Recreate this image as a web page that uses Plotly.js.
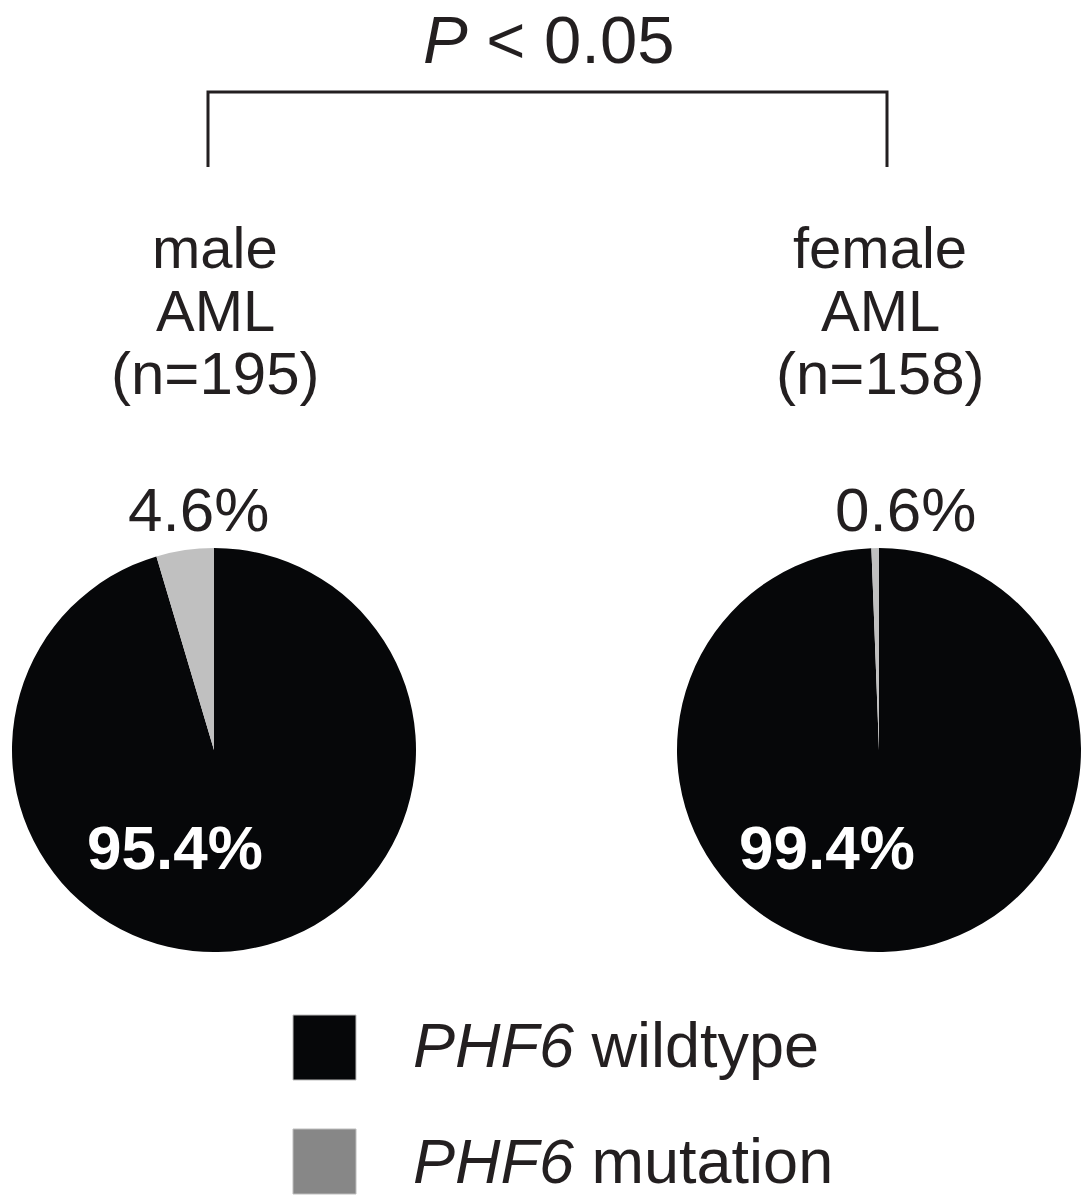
<!DOCTYPE html>
<html>
<head>
<meta charset="utf-8">
<script src="https://cdn.plot.ly/plotly-3.0.1.min.js"></script>
<style>html,body{margin:0;padding:0;background:#fff;overflow:hidden}#chart{width:1081px;height:1195px}</style>
</head>
<body>
<div id="chart"></div>
<script>
// ---- data ----
const groupNames = ['male', 'female'];
const cohortLabel = 'AML';
const nPatients = [195, 158];
const categories = ['PHF6 wildtype', 'PHF6 mutation'];
const wildtypePct = [95.4, 99.4];
const mutationPct = [4.6, 0.6];
const pValueText = '<i>P</i> &lt; 0.05';
const legendGene = 'PHF6';
const legendStates = ['wildtype', 'mutation'];

// ---- helpers ----
const W = 1081, H = 1195;
const fx = px => px / W;
const fy = py => 1 - py / H;
const FONT = 'Liberation Sans, Arial, sans-serif';
const TXT = '#231f20';
const C_WT = '#060709', C_MUT_PIE = '#c0c0c0', C_MUT_LEG = '#878787';

// pie domains in pixels
const pieBoxes = [
  {x0: 12, x1: 416, y0: 548, y1: 952},
  {x0: 677, x1: 1081, y0: 548, y1: 952}
];

const traces = groupNames.map((g, i) => ({
  type: 'pie',
  labels: categories,
  values: [wildtypePct[i], mutationPct[i]],
  sort: false,
  direction: 'clockwise',
  rotation: 0,
  marker: {colors: [C_WT, C_MUT_PIE], line: {width: 0}},
  textinfo: 'none',
  hoverinfo: 'none',
  showlegend: false,
  domain: {x: [fx(pieBoxes[i].x0), fx(pieBoxes[i].x1)], y: [fy(pieBoxes[i].y1), fy(pieBoxes[i].y0)]}
}));

const ann = [];
function addText(text, x, y, size, opts) {
  ann.push(Object.assign({
    text: text, x: fx(x), y: fy(y), xref: 'paper', yref: 'paper',
    showarrow: false, xanchor: 'center', yanchor: 'middle',
    font: {family: FONT, size: size, color: TXT}
  }, opts || {}));
}

// title
addText(pValueText, 548, 40, 67);

// group labels
const labelX = [215, 880];
groupNames.forEach((g, i) => {
  addText(g, labelX[i], 247, 58);
  addText(cohortLabel, labelX[i], 310, 58);
  addText('(n=' + nPatients[i] + ')', labelX[i], 374, 60);
});

// outer mutation percentages
const outerX = [198, 905];
mutationPct.forEach((v, i) => addText(v.toFixed(1) + '%', outerX[i], 509, 62));

// inner wildtype percentages
const innerX = [175, 827];
wildtypePct.forEach((v, i) => addText('<b>' + v.toFixed(1) + '%</b>', innerX[i], 847, 62,
  {font: {family: FONT, size: 62, color: '#ffffff'}}));

// legend text
const legY = [1045, 1161];
legendStates.forEach((s, i) => addText('<i>' + legendGene + '</i> ' + s, 411, legY[i], 63, {xanchor: 'left'}));

// shapes: bracket and legend squares
const shapes = [
  {type: 'path', xref: 'paper', yref: 'paper',
   path: `M ${fx(208)} ${fy(167)} L ${fx(208)} ${fy(92)} L ${fx(887)} ${fy(92)} L ${fx(887)} ${fy(167)}`,
   line: {color: TXT, width: 3}},
  {type: 'rect', xref: 'paper', yref: 'paper', x0: fx(293), x1: fx(356), y0: fy(1080), y1: fy(1015),
   fillcolor: C_WT, line: {width: 1, color: '#bdbdbd'}},
  {type: 'rect', xref: 'paper', yref: 'paper', x0: fx(293), x1: fx(356), y0: fy(1194), y1: fy(1129),
   fillcolor: C_MUT_LEG, line: {width: 1, color: '#bdbdbd'}}
];

const layout = {
  width: W, height: H,
  margin: {l: 0, r: 0, t: 0, b: 0, pad: 0},
  paper_bgcolor: '#ffffff', plot_bgcolor: '#ffffff',
  showlegend: false,
  annotations: ann,
  shapes: shapes
};

Plotly.newPlot('chart', traces, layout, {staticPlot: true, displayModeBar: false});
</script>
</body>
</html>
